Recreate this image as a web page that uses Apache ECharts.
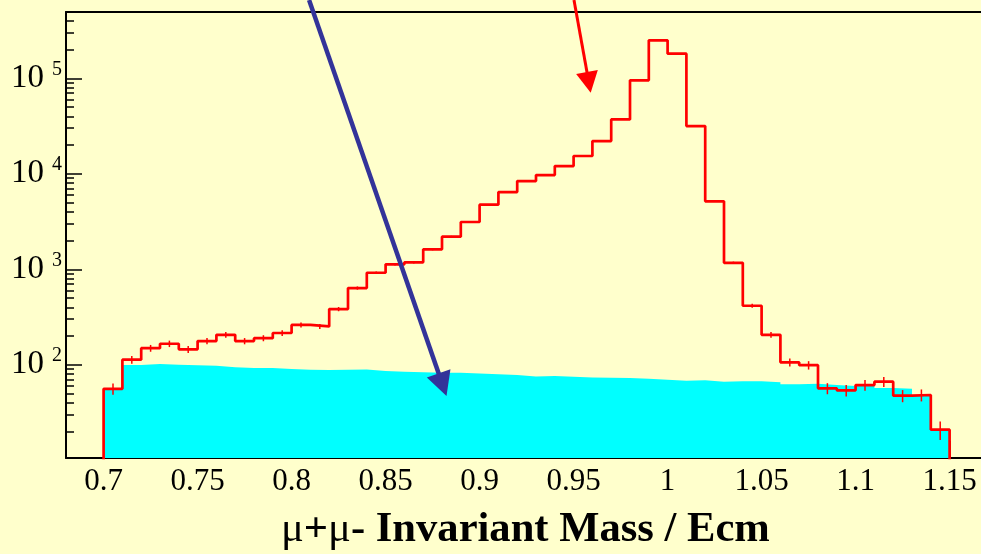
<!DOCTYPE html>
<html><head><meta charset="utf-8">
<script src="https://cdn.jsdelivr.net/npm/echarts@6/dist/echarts.min.js"></script>
<style>html,body{margin:0;padding:0;background:#ffffcc}#c{width:981px;height:554px}</style>
</head><body><div id="c"></div>
<script>
// bin edges (0.01 wide bins from 0.70 to 1.15)
const binEdges = [0.70,0.71,0.72,0.73,0.74,0.75,0.76,0.77,0.78,0.79,0.80,0.81,0.82,0.83,0.84,0.85,0.86,0.87,0.88,0.89,0.90,0.91,0.92,0.93,0.94,0.95,0.96,0.97,0.98,0.99,1.00,1.01,1.02,1.03,1.04,1.05,1.06,1.07,1.08,1.09,1.10,1.11,1.12,1.13,1.14,1.15];
// red histogram (data) counts per bin
const redCounts = [56,113,149,166,145,177,206,177,190,215,261,252,383,636,920,1127,1183,1618,2193,3126,4745,6440,8390,9700,12060,15350,22040,37150,95300,250000,181000,31600,5150,1169,415,206,106,99,56.6,53.9,61.3,66.4,47.4,48.2,20.9];
// red error bar half sizes
const redErrors = [7.5,10.6,12.2,12.9,12,13.3,14.4,13.3,13.8,14.7,16.2,15.9,19.6,25,30,34,34,40,47,56,69,80,92,98,110,124,148,193,309,500,425,178,72,34,20,14.4,10.3,10,7.5,7.3,7.8,8.1,6.9,6.9,4.6];
// cyan background histogram
const cyanCounts = [56,99.3,101.7,100,99,97.6,94,92.3,92.3,90,88.6,88,88.6,89.4,85.9,84.5,83.2,82.5,82.5,81.2,79.3,78,75.5,76.1,74.9,73.5,73.1,72.8,71.4,69.6,68,68.6,66.4,67,67,65.4,62.3,63.2,61.5,60,60,57,56,48,20.9];
// axis ticks
const xMajor = [0.7,0.75,0.8,0.85,0.9,0.95,1.0,1.05,1.1,1.15];
const xLabels = ['0.7','0.75','0.8','0.85','0.9','0.95','1','1.05','1.1','1.15'];
const xMinor = [0.725,0.775,0.825,0.875,0.925,0.975,1.025,1.075,1.125];
const yMajor = [100,1000,10000,100000];
const yExponents = ['2','3','4','5'];
const yMinor = [20,30,40,50,60,70,80,90,200,300,400,500,600,700,800,900,2000,3000,4000,5000,6000,7000,8000,9000,20000,30000,40000,50000,60000,70000,80000,90000,200000,300000,400000];
// arrows in data coordinates [x, y]
const blueArrow = [[0.8093, 660000],[0.8824, 47]];
const redArrow = [[0.9502, 660000],[0.9591, 70660]];
const title = '{m|\u03bc}+{m|\u03bc}- Invariant Mass / Ecm';

const X_MIN = 0.68, X_MAX = 1.1667, Y_MIN = 10.55, Y_MAX = 495000;
const FONT = 'Liberation Serif';

const redLine = [[binEdges[0], 1]];
for (let i = 0; i < redCounts.length; i++) redLine.push([binEdges[i], redCounts[i]]);
redLine.push([binEdges[binEdges.length-1], redCounts[redCounts.length-1]]);
redLine.push([binEdges[binEdges.length-1], 1]);

const cyanLine = [];
for (let i = 0; i < cyanCounts.length; i++) cyanLine.push([binEdges[i], cyanCounts[i]]);
cyanLine.push([binEdges[binEdges.length-1], cyanCounts[cyanCounts.length-1]]);

const errData = redCounts.map((v, i) => [(binEdges[i] + binEdges[i+1]) / 2, v - redErrors[i], v + redErrors[i]]);

const chart = echarts.init(document.getElementById('c'), null, {renderer: 'canvas'});
const blackLine = {color: '#000', width: 2};
chart.setOption({
  backgroundColor: '#ffffcc',
  animation: false,
  title: {
    text: title, left: 281, top: 508, padding: 0,
    textStyle: {fontFamily: FONT, fontWeight: 'bold', fontSize: 42.6, color: '#000',
      rich: {m: {fontFamily: FONT, fontWeight: 'normal', fontSize: 42.6, color: '#000'}}}
  },
  grid: {left: 66, top: 12, bottom: 96, right: 0, containLabel: false},
  xAxis: [
    {type: 'value', min: X_MIN, max: X_MAX, position: 'bottom',
      axisLine: {show: true, onZero: false, lineStyle: blackLine},
      axisTick: {show: true, inside: true, length: 17, customValues: xMajor, lineStyle: {color: '#000', width: 1.5}},
      axisLabel: {show: true, customValues: xMajor, margin: 8, fontFamily: FONT, fontSize: 31, color: '#000',
        formatter: v => xLabels[xMajor.indexOf(v)]},
      splitLine: {show: false}},
    {type: 'value', min: X_MIN, max: X_MAX, position: 'bottom',
      axisLine: {show: false},
      axisTick: {show: true, inside: true, length: 9, customValues: xMinor, lineStyle: {color: '#000', width: 1.5}},
      axisLabel: {show: false}, splitLine: {show: false}},
    {type: 'value', min: X_MIN, max: X_MAX, position: 'top',
      axisLine: {show: true, onZero: false, lineStyle: blackLine},
      axisTick: {show: false}, axisLabel: {show: false}, splitLine: {show: false}}
  ],
  yAxis: [
    {type: 'log', logBase: 10, min: Y_MIN, max: Y_MAX, position: 'left',
      axisLine: {show: true, lineStyle: blackLine},
      axisTick: {show: true, inside: true, length: 16, customValues: yMajor, lineStyle: {color: '#000', width: 1.5}},
      axisLabel: {show: true, customValues: yMajor, margin: 4,
        formatter: v => '{b|10}{s|' + yExponents[yMajor.indexOf(v)] + '}',
        rich: {b: {fontFamily: FONT, fontSize: 33, color: '#000'},
               s: {fontFamily: FONT, fontSize: 20, color: '#000', padding: [0, 0, 18, 8]}}},
      splitLine: {show: false}},
    {type: 'log', logBase: 10, min: Y_MIN, max: Y_MAX, position: 'left',
      axisLine: {show: false},
      axisTick: {show: true, inside: true, length: 8, customValues: yMinor, lineStyle: {color: '#000', width: 1.5}},
      axisLabel: {show: false}, splitLine: {show: false}}
  ],
  series: [
    {type: 'line', name: 'bg', data: cyanLine, step: 'end', showSymbol: false, symbol: 'none',
      lineStyle: {width: 0}, areaStyle: {color: '#00ffff', opacity: 1, origin: 'start'}, z: 2, clip: true},
    {type: 'line', name: 'data', data: redLine, step: 'end', showSymbol: false, symbol: 'none',
      lineStyle: {color: '#ff0000', width: 2.7}, z: 3, clip: true},
    {type: 'custom', name: 'err', data: errData, z: 4, clip: true,
      encode: {x: 0, y: [1, 2]},
      renderItem: (params, api) => {
        const x = api.value(0);
        const p1 = api.coord([x, api.value(1)]);
        const p2 = api.coord([x, api.value(2)]);
        return {type: 'line', shape: {x1: p1[0], y1: p1[1], x2: p2[0], y2: p2[1]},
          style: {stroke: '#ff0000', lineWidth: 1.5}};
      }}
  ]
});

const toPx = p => chart.convertToPixel({xAxisIndex: 0, yAxisIndex: 0}, p);
function arrow(a, b, color, lw, headLen, headHalf) {
  const p = toPx(a), q = toPx(b);
  const dx = q[0] - p[0], dy = q[1] - p[1], L = Math.hypot(dx, dy);
  const ux = dx / L, uy = dy / L;
  const bx = q[0] - ux * headLen, by = q[1] - uy * headLen;
  return [
    {type: 'line', z: 100, shape: {x1: p[0], y1: p[1], x2: bx + ux * 2, y2: by + uy * 2}, style: {stroke: color, lineWidth: lw}},
    {type: 'polygon', z: 100, shape: {points: [[q[0], q[1]], [bx - uy * headHalf, by + ux * headHalf], [bx + uy * headHalf, by - ux * headHalf]]}, style: {fill: color}}
  ];
}
chart.setOption({graphic: {elements: [].concat(
  arrow(blueArrow[0], blueArrow[1], '#333399', 4.5, 24, 12.5),
  arrow(redArrow[0], redArrow[1], '#ff0000', 3, 21, 11)
)}});
</script>
</body></html>
